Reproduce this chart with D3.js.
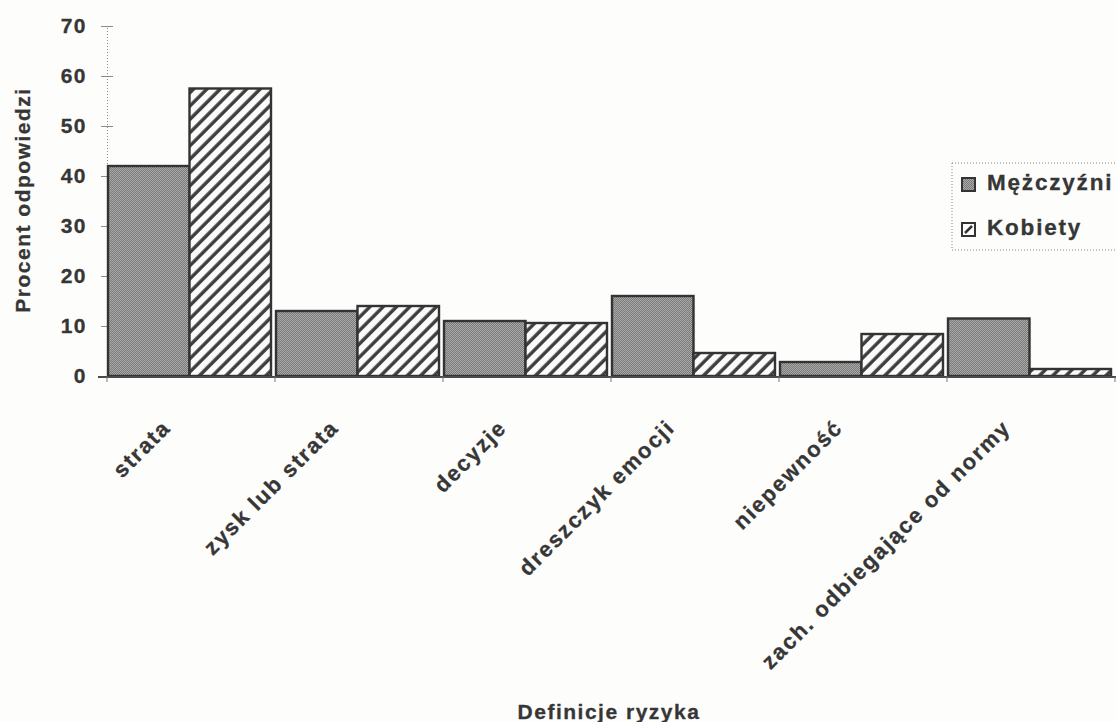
<!DOCTYPE html>
<html>
<head>
<meta charset="utf-8">
<script src="https://cdn.jsdelivr.net/npm/d3@7"></script>
<style>
  body { margin: 0; background: #fdfdfb; }
  text { font-family: "Liberation Sans", Arial, sans-serif; font-weight: bold; fill: #363636; stroke: #363636; stroke-width: 0.3px; letter-spacing: 1.5px; }
</style>
</head>
<body>
<div id="graph-container"></div>
<script>
// Data
var categories = ["strata", "zysk lub strata", "decyzje", "dreszczyk emocji", "niepewność", "zach. odbiegające od normy"];
var seriesNames = ["Mężczyźni", "Kobiety"];
var mezczyzni = [42, 13, 11, 16, 2.8, 11.5];
var kobiety = [57.5, 14, 10.6, 4.6, 8.4, 1.4];
var yTicks = [0, 10, 20, 30, 40, 50, 60, 70];

var svgWidth = 1116;
var svgHeight = 722;

var svg = d3.select("#graph-container")
  .append("svg")
  .attr("width", svgWidth)
  .attr("height", svgHeight);

// Patterns: stippled gray for men, diagonal hatch for women
var defs = svg.append("defs");
var dots = defs.append("pattern")
  .attr("id", "dots")
  .attr("patternUnits", "userSpaceOnUse")
  .attr("width", 2).attr("height", 2);
dots.append("rect").attr("width", 2).attr("height", 2).attr("fill", "#a9a9a9");
dots.append("rect").attr("width", 1).attr("height", 1).attr("fill", "#7a7a7a");
dots.append("rect").attr("x", 1).attr("y", 1).attr("width", 1).attr("height", 1).attr("fill", "#7a7a7a");

var hatch = defs.append("pattern")
  .attr("id", "hatch")
  .attr("patternUnits", "userSpaceOnUse")
  .attr("width", 9.4).attr("height", 9.4)
  .attr("patternTransform", "rotate(45)");
hatch.append("rect").attr("width", 9.4).attr("height", 9.4).attr("fill", "#fbfbfb");
hatch.append("line")
  .attr("x1", 2).attr("y1", 0).attr("x2", 2).attr("y2", 9.4)
  .attr("stroke", "#3c3c3c").attr("stroke-width", 3.4);

var fills = ["url(#dots)", "url(#hatch)"];

// Scales
var xScale = d3.scaleBand().domain(categories).range([107, 1115]);
var subScale = d3.scaleBand().domain(seriesNames).range([1, xScale.bandwidth() - 4]);
var yScale = d3.scaleLinear().domain([0, 70]).range([376, 26]);

// Y axis (dotted line, crossing ticks)
var yAxis = svg.append("g")
  .attr("transform", "translate(107,0)")
  .call(d3.axisLeft(yScale).tickValues(yTicks).tickSize(6).tickPadding(14));
yAxis.select(".domain").attr("stroke", "#8a8a8a").attr("stroke-dasharray", "1,2");
yAxis.selectAll(".tick line").attr("x1", 6).attr("stroke", "#8a8a8a");
yAxis.selectAll(".tick text")
  .style("font-size", "21px")
  .attr("x", -20)
  .attr("fill", "#363636");

// Bars
var rows = categories.map(function (c, i) {
  return { cat: c, values: [mezczyzni[i], kobiety[i]] };
});
var groups = svg.selectAll("g.cat")
  .data(rows)
  .enter()
  .append("g")
  .attr("class", "cat")
  .attr("transform", function (d) { return "translate(" + xScale(d.cat) + ",0)"; });

groups.selectAll("rect")
  .data(function (d) { return d.values.map(function (v, j) { return { s: seriesNames[j], v: v, j: j }; }); })
  .enter()
  .append("rect")
  .attr("x", function (d) { return subScale(d.s); })
  .attr("y", function (d) { return yScale(d.v); })
  .attr("width", subScale.bandwidth())
  .attr("height", function (d) { return yScale(0) - yScale(d.v); })
  .attr("fill", function (d) { return fills[d.j]; })
  .attr("stroke", "#333")
  .attr("stroke-width", 2.4);

// X axis line and boundary ticks
svg.append("line")
  .attr("x1", 98).attr("x2", 1116)
  .attr("y1", yScale(0) + 1).attr("y2", yScale(0) + 1)
  .attr("stroke", "#4a4a4a").attr("stroke-width", 2);
var edges = categories.map(function (c) { return xScale(c); }).concat([xScale.range()[1]]);
svg.selectAll("line.edge")
  .data(edges)
  .enter()
  .append("line")
  .attr("class", "edge")
  .attr("x1", function (d) { return d; }).attr("x2", function (d) { return d; })
  .attr("y1", yScale(0) + 1).attr("y2", yScale(0) + 6)
  .attr("stroke", "#777").attr("stroke-width", 1);

// Category labels
svg.selectAll("text.cat")
  .data(categories)
  .enter()
  .append("text")
  .attr("class", "cat")
  .attr("text-anchor", "end")
  .style("font-size", "22px")
  .style("letter-spacing", "1.8px")
  .attr("transform", function (d) {
    return "translate(" + (xScale(d) + xScale.bandwidth() / 2 - 19) + ",429) rotate(-45)";
  })
  .text(function (d) { return d; });

// Axis titles
svg.append("text")
  .attr("text-anchor", "middle")
  .style("font-size", "21px")
  .attr("transform", "translate(30,200) rotate(-90)")
  .text("Procent odpowiedzi");

svg.append("text")
  .attr("x", 609)
  .attr("y", 719)
  .attr("text-anchor", "middle")
  .style("font-size", "21px")
  .text("Definicje ryzyka");

// Legend
var legend = svg.append("g").attr("transform", "translate(952,163)");
legend.append("rect")
  .attr("width", 200).attr("height", 87)
  .attr("fill", "none")
  .attr("stroke", "#8a8a8a")
  .attr("stroke-dasharray", "1,2");
var items = legend.selectAll("g.item")
  .data(seriesNames)
  .enter()
  .append("g")
  .attr("class", "item")
  .attr("transform", function (d, i) { return "translate(10," + (15 + i * 45) + ")"; });
items.append("rect")
  .attr("width", 13).attr("height", 13)
  .attr("fill", function (d, i) { return i === 0 ? fills[0] : "#fbfbfb"; })
  .attr("stroke", "#333").attr("stroke-width", 2);
items.filter(function (d, i) { return i === 1; })
  .append("line")
  .attr("x1", 3).attr("y1", 10).attr("x2", 10).attr("y2", 3)
  .attr("stroke", "#333").attr("stroke-width", 2.5);
items.append("text")
  .attr("x", 25)
  .attr("y", 12)
  .style("font-size", "22.5px")
  .style("letter-spacing", "1.8px")
  .text(function (d) { return d; });
</script>
</body>
</html>
